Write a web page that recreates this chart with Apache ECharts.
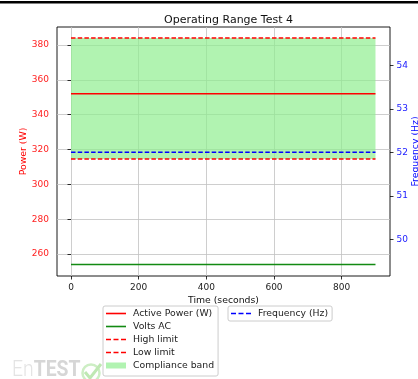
<!DOCTYPE html>
<html>
<head>
<meta charset="utf-8">
<script src="https://cdn.jsdelivr.net/npm/echarts@6/dist/echarts.min.js"></script>
<style>
html,body{margin:0;padding:0;background:#fff;}
#chart{width:418px;height:379px;}
</style>
</head>
<body>
<div id="chart"></div>
<script>
// ---- data ----
var timeS = [0, 900];
var activePower = [352, 352];
var voltsAC = [254, 254];
var highLimit = [384, 384];
var lowLimit = [314.5, 314.5];
var frequency = [52, 52];
var xTicks = [0, 200, 400, 600, 800];
var powerTicks = [260, 280, 300, 320, 340, 360, 380];
var freqTicks = [50, 51, 52, 53, 54];

function pairs(xs, ys) { return xs.map(function (x, i) { return [x, ys[i]]; }); }

var FONT = 'DejaVu Sans';
var RED = '#ff0000', BLUE = '#0000ff', GREEN = '#138a13';
var SOLID = 'path://M0,0h20v1.6h-20z';
var DASHED = 'path://M0,0h5v1.6h-5z M7.5,0h5v1.6h-5z M15,0h5v1.6h-5z';
var chart = echarts.init(document.getElementById('chart'), null, {renderer: 'canvas'});

var legendText = {fontFamily: FONT, fontSize: 9.3, color: '#222', padding: [0, 0, 0, 2]};
var option = {
  animation: false,
  backgroundColor: '#fff',
  textStyle: {fontFamily: FONT},
  title: {
    text: 'Operating Range Test 4',
    left: 223.5, top: 10, textAlign: 'center',
    textStyle: {fontFamily: FONT, fontSize: 11, fontWeight: 'normal', color: '#111'}
  },
  grid: {left: 57, right: 28, top: 27, bottom: 103, show: true, borderColor: '#000', borderWidth: 0.9,
    backgroundColor: '#fff', containLabel: false, outerBoundsMode: 'none'},
  legend: [{
    orient: 'vertical', left: 103, top: 306,
    itemWidth: 20, itemHeight: 10, itemGap: 4,
    padding: [3, 4, 6, 3],
    borderColor: '#cccccc', borderWidth: 1, borderRadius: 2, backgroundColor: 'rgba(255,255,255,0.92)',
    textStyle: legendText,
    data: [
      {name: 'Active Power (W)', icon: SOLID, itemStyle: {color: RED}},
      {name: 'Volts AC', icon: SOLID, itemStyle: {color: GREEN}},
      {name: 'High limit', icon: DASHED, itemStyle: {color: RED}},
      {name: 'Low limit', icon: DASHED, itemStyle: {color: RED}},
      {name: 'Compliance band', icon: 'path://M0,0h20v6h-20z', itemStyle: {color: 'rgba(144,238,144,0.7)'}}
    ]
  }, {
    orient: 'vertical', left: 228, top: 306,
    itemWidth: 20, itemHeight: 10,
    padding: [3, 4, 3, 3],
    borderColor: '#cccccc', borderWidth: 1, borderRadius: 2, backgroundColor: 'rgba(255,255,255,0.92)',
    textStyle: legendText,
    data: [{name: 'Frequency (Hz)', icon: DASHED, itemStyle: {color: BLUE}}]
  }],
  xAxis: {
    type: 'value', min: -41.4, max: 942.9,
    name: 'Time (seconds)', nameLocation: 'middle', nameGap: 20, nameMoveOverlap: false,
    nameTextStyle: {fontFamily: FONT, fontSize: 9.3, color: '#111'},
    axisLine: {show: false},
    axisTick: {show: true, inside: false, length: 3.5, lineStyle: {color: '#000', width: 0.8}, customValues: xTicks},
    axisLabel: {fontFamily: FONT, fontSize: 9, color: '#222', margin: 7, customValues: xTicks},
    splitLine: {show: true, lineStyle: {color: '#c2c2c2', width: 0.8}}
  },
  yAxis: [{
    type: 'value', min: 247.4, max: 390.3, position: 'left',
    name: 'Power (W)', nameLocation: 'middle', nameGap: 29, nameMoveOverlap: false,
    nameTextStyle: {fontFamily: FONT, fontSize: 9.3, color: RED},
    axisLine: {show: false},
    axisTick: {show: true, inside: false, length: 3.5, lineStyle: {color: '#000', width: 0.8}, customValues: powerTicks},
    axisLabel: {fontFamily: FONT, fontSize: 9, color: '#ff2020', margin: 8, customValues: powerTicks},
    splitLine: {show: true, lineStyle: {color: '#c2c2c2', width: 0.8}}
  }, {
    type: 'value', min: 49.16, max: 54.88, position: 'right',
    name: 'Frequency (Hz)', nameLocation: 'middle', nameGap: 21, nameMoveOverlap: false,
    nameTextStyle: {fontFamily: FONT, fontSize: 9.3, color: BLUE},
    axisLine: {show: false},
    axisTick: {show: true, inside: false, length: 3.5, lineStyle: {color: '#000', width: 0.8}, customValues: freqTicks},
    axisLabel: {fontFamily: FONT, fontSize: 9, color: '#2020ff', margin: 6.5, customValues: freqTicks},
    splitLine: {show: false}
  }],
  graphic: [{
    type: 'text', left: 12, top: 359, z: 1, scaleX: 0.88,
    style: {
      text: '{a|En}{b|TEST}',
      rich: {
        a: {fontFamily: 'Roboto', fontSize: 22, fontWeight: 300, fill: '#e3e3e3'},
        b: {fontFamily: 'Roboto', fontSize: 22, fontWeight: 'bold', fill: '#d6d6d6'}
      }
    }
  }, {
    type: 'circle', z: 1, shape: {cx: 91, cy: 373, r: 8.5},
    style: {fill: 'none', stroke: '#cdeec4', lineWidth: 2.5}
  }, {
    type: 'polyline', z: 1, shape: {points: [[85, 372], [90, 378], [101, 364]]},
    style: {fill: 'none', stroke: '#bfe8b3', lineWidth: 3}
  }],
  series: [{
    name: 'Compliance band', type: 'custom', yAxisIndex: 0,
    itemStyle: {color: 'rgba(144,238,144,0.7)'},
    data: [[timeS[0], timeS[timeS.length - 1], lowLimit[0], highLimit[0]]],
    renderItem: function (params, api) {
      var p1 = api.coord([api.value(0), api.value(3)]);
      var p2 = api.coord([api.value(1), api.value(2)]);
      return {type: 'rect', shape: {x: p1[0], y: p1[1], width: p2[0] - p1[0], height: p2[1] - p1[1]},
        style: {fill: 'rgba(144,238,144,0.7)'}};
    },
    z: 1
  }, {
    name: 'Active Power (W)', type: 'line', yAxisIndex: 0, showSymbol: false, symbol: 'none',
    lineStyle: {color: RED, width: 1.5}, itemStyle: {color: RED},
    data: pairs(timeS, activePower), z: 3
  }, {
    name: 'Volts AC', type: 'line', yAxisIndex: 0, showSymbol: false, symbol: 'none',
    lineStyle: {color: GREEN, width: 1.5}, itemStyle: {color: GREEN},
    data: pairs(timeS, voltsAC), z: 3
  }, {
    name: 'High limit', type: 'line', yAxisIndex: 0, showSymbol: false, symbol: 'none',
    lineStyle: {color: RED, width: 1.5, type: [4.5, 2.2]}, itemStyle: {color: RED},
    data: pairs(timeS, highLimit), z: 3
  }, {
    name: 'Low limit', type: 'line', yAxisIndex: 0, showSymbol: false, symbol: 'none',
    lineStyle: {color: RED, width: 1.5, type: [4.5, 2.2]}, itemStyle: {color: RED},
    data: pairs(timeS, lowLimit), z: 3
  }, {
    name: 'Frequency (Hz)', type: 'line', yAxisIndex: 1, showSymbol: false, symbol: 'none',
    lineStyle: {color: BLUE, width: 1.5, type: [4.5, 2.2]}, itemStyle: {color: BLUE},
    data: pairs(timeS, frequency), z: 3
  }]
};
chart.setOption(option);
chart.getZr().add(new echarts.graphic.Rect({shape: {x: 0, y: 1, width: 418, height: 2.6}, style: {fill: '#000'}, z: 100}));
</script>
</body>
</html>
